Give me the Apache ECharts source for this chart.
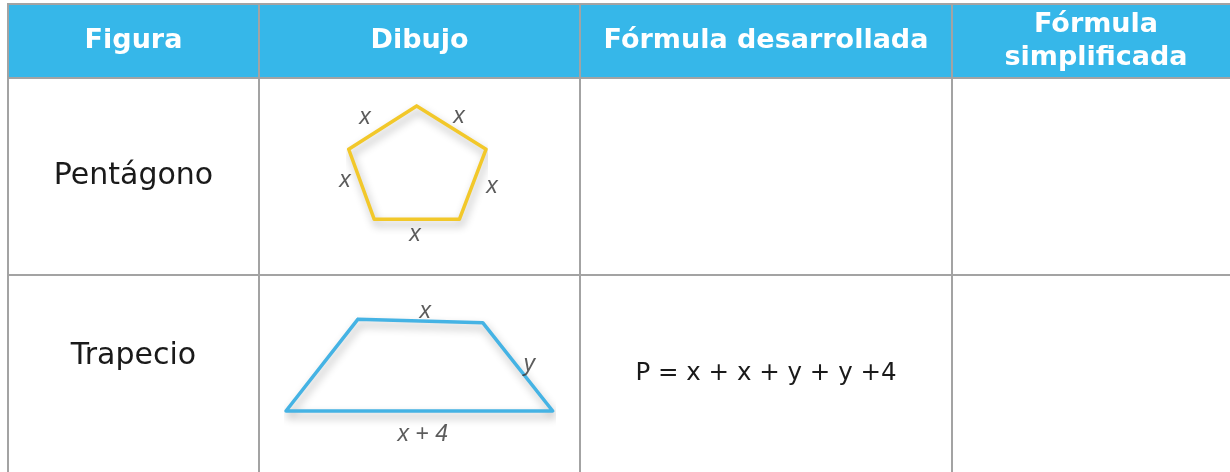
<!DOCTYPE html>
<html>
<head>
<meta charset="utf-8">
<script src="https://cdn.jsdelivr.net/npm/echarts@6/dist/echarts.min.js"></script>
<style>
html, body { margin: 0; padding: 0; background: #fff; }
#main { width: 1230px; height: 472px; }
</style>
</head>
<body>
<div id="main"></div>
<script>
// 表格内容
var headers = ['Figura', 'Dibujo', 'Fórmula desarrollada', 'Fórmula\nsimplificada'];
var figures = ['Pentágono', 'Trapecio'];
var developedFormulas = ['', 'P = x + x + y + y +4'];
var simplifiedFormulas = ['', ''];
// 五边形顶点（图形单位）
var pentagonPoints = [[4.95, 0], [10, 3.15], [8.06, 8.25], [1.86, 8.25], [0, 3.15], [4.95, 0]];
var pentagonLabels = [[1.19, 0.87, 'x'], [8.03, 0.80, 'x'], [-0.27, 5.46, 'x'], [10.44, 5.9, 'x'], [4.83, 9.4, 'x']];
// 梯形顶点（图形单位）
var trapezoidPoints = [[3.23, 0], [8.85, 0.15], [12, 4.13], [0, 4.13], [3.23, 0]];
var trapezoidLabels = [[6.26, -0.34, 'x'], [10.95, 2.06, 'y'], [6.15, 5.2, 'x + 4']];

// 布局
var colEdges = [8, 259, 580, 952, 1240];
var rowEdges = [4, 78, 275, 480];
var rowTextY = [41, 176, 356];
var borderColor = '#a3a3a3';
var headerColor = '#36b7e9';
var font = 'DejaVu Sans';

var chart = echarts.init(document.getElementById('main'));

var cells = [];
for (var r = 0; r < 3; r++) {
    for (var c = 0; c < 4; c++) {
        cells.push([c, r]);
    }
}
function cellText(c, r) {
    if (r === 0) return headers[c];
    if (c === 0) return figures[r - 1];
    if (c === 2) return developedFormulas[r - 1];
    if (c === 3) return simplifiedFormulas[r - 1];
    return '';
}
function labelData(list) {
    return list.map(function (d) { return { name: d[2], value: [d[0], d[1]] }; });
}
function shapeLabels(list, gridIndex) {
    return {
        type: 'scatter',
        xAxisIndex: gridIndex,
        yAxisIndex: gridIndex,
        clip: false,
        symbolSize: 0,
        silent: true,
        z: 5,
        data: labelData(list),
        label: {
            show: true,
            position: 'inside',
            formatter: '{b}',
            color: '#333',
            fontFamily: 'Liberation Sans',
            fontStyle: 'italic',
            fontSize: 23
        }
    };
}
function shapeLine(points, gridIndex, color) {
    return {
        type: 'line',
        xAxisIndex: gridIndex,
        yAxisIndex: gridIndex,
        clip: false,
        symbol: 'none',
        silent: true,
        z: 4,
        data: points,
        lineStyle: {
            color: color,
            width: 3.5,
            join: 'round',
            cap: 'round',
            shadowColor: 'rgba(0,0,0,0.3)',
            shadowBlur: 9,
            shadowOffsetX: 2,
            shadowOffsetY: 5
        }
    };
}
function hiddenAxis(min, max, inverse) {
    return { type: 'value', min: min, max: max, inverse: !!inverse, show: false };
}

option = {
    animation: false,
    grid: [
        { left: 0, top: 0, width: 1230, height: 472, outerBoundsMode: 'none' },
        { left: 348.7, top: 106, width: 137.3, height: 113.3, outerBoundsMode: 'none' },
        { left: 286, top: 319.3, width: 266.7, height: 91.7, outerBoundsMode: 'none' }
    ],
    xAxis: [
        Object.assign(hiddenAxis(0, 1230), { gridIndex: 0 }),
        Object.assign(hiddenAxis(0, 10), { gridIndex: 1 }),
        Object.assign(hiddenAxis(0, 12), { gridIndex: 2 })
    ],
    yAxis: [
        Object.assign(hiddenAxis(0, 472, true), { gridIndex: 0 }),
        Object.assign(hiddenAxis(0, 8.25, true), { gridIndex: 1 }),
        Object.assign(hiddenAxis(0, 4.13, true), { gridIndex: 2 })
    ],
    series: [
        {
            type: 'custom',
            xAxisIndex: 0,
            yAxisIndex: 0,
            silent: true,
            z: 1,
            data: cells,
            renderItem: function (params, api) {
                var c = api.value(0), r = api.value(1);
                var p0 = api.coord([colEdges[c], rowEdges[r]]);
                var p1 = api.coord([colEdges[c + 1], rowEdges[r + 1]]);
                var header = r === 0;
                var cx = (p0[0] + p1[0]) / 2;
                var ty = api.coord([0, rowTextY[r]])[1];
                if (!header && c === 2) ty = 374;
                var fontSize = header ? 27 : (c === 2 ? 24.5 : 30);
                return {
                    type: 'group',
                    children: [
                        {
                            type: 'rect',
                            shape: { x: p0[0], y: p0[1], width: p1[0] - p0[0], height: p1[1] - p0[1] },
                            style: { fill: header ? headerColor : '#fff', stroke: borderColor, lineWidth: 2 }
                        },
                        {
                            type: 'text',
                            style: {
                                x: cx,
                                y: ty,
                                text: cellText(c, r),
                                align: 'center',
                                verticalAlign: 'middle',
                                fill: header ? '#fff' : '#1a1a1a',
                                fontFamily: font,
                                fontWeight: header ? 'bold' : 'normal',
                                fontSize: fontSize,
                                lineHeight: header ? 33 : fontSize * 1.2
                            }
                        }
                    ]
                };
            }
        },
        shapeLine(pentagonPoints, 1, '#f2c82a'),
        shapeLabels(pentagonLabels, 1),
        shapeLine(trapezoidPoints, 2, '#45b3e4'),
        shapeLabels(trapezoidLabels, 2)
    ]
};
chart.setOption(option);
</script>
</body>
</html>
